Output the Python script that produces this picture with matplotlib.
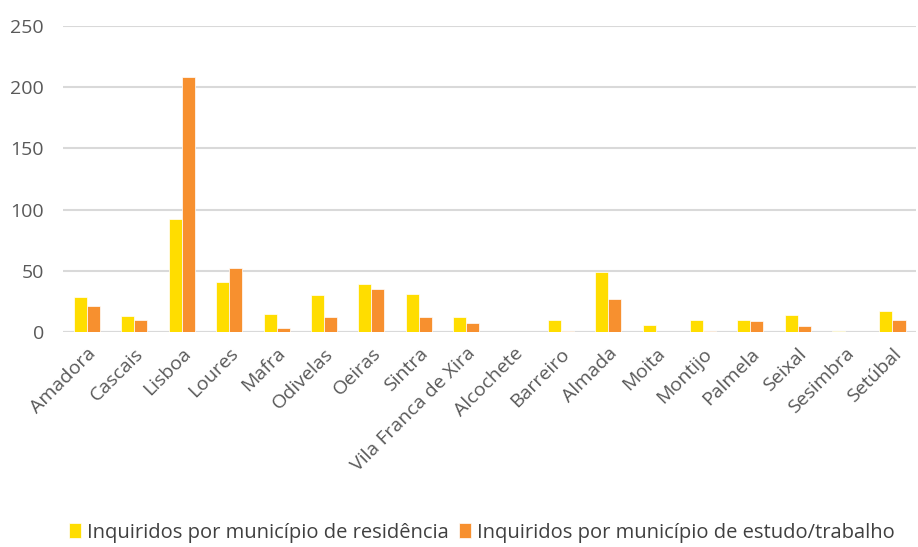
import numpy as np
import matplotlib
matplotlib.use('Agg')
import matplotlib.pyplot as plt

plt.rcParams['font.family'] = ['Open Sans', 'DejaVu Sans']

municipios = ['Amadora', 'Cascais', 'Lisboa', 'Loures', 'Mafra', 'Odivelas', 'Oeiras',
              'Sintra', 'Vila Franca de Xira', 'Alcochete', 'Barreiro', 'Almada', 'Moita',
              'Montijo', 'Palmela', 'Seixal', 'Sesimbra', 'Setúbal']
residencia = [29, 13, 92, 41, 15, 30, 39, 31, 12, 0, 10, 49, 6, 10, 10, 14, 1, 17]
estudo_trabalho = [21, 10, 208, 52, 3, 12, 35, 12, 7, 0, 1, 27, 0, 1, 9, 5, 0, 10]
yticks = [0, 50, 100, 150, 200, 250]

YELLOW = '#FFDD00'
ORANGE = '#F7902F'
GRID = '#D9D9D9'
TXT = '#595959'

fig = plt.figure(figsize=(9.18, 5.47), dpi=100)
ax = fig.add_axes([0.069, 0.393, 0.929, 0.5595])

x = np.arange(len(municipios))
w = 0.275
ax.bar(x - w/2, residencia, w, color=YELLOW, edgecolor='white', linewidth=0.5,
       label='Inquiridos por município de residência', zorder=3)
ax.bar(x + w/2, estudo_trabalho, w, color=ORANGE, edgecolor='white', linewidth=0.5,
       label='Inquiridos por município de estudo/trabalho', zorder=3)

ax.set_ylim(0, 250)
ax.set_xlim(-0.5, len(municipios) - 0.5)
ax.set_yticks(yticks)
ax.yaxis.grid(True, color=GRID, linewidth=1.5, zorder=0)
ax.set_axisbelow(True)
for s in ['top', 'right', 'left', 'bottom']:
    ax.spines[s].set_visible(False)
ax.axhline(0, color=GRID, linewidth=1.5, zorder=2)

ax.tick_params(axis='both', length=0, colors=TXT, labelsize=14)
ax.tick_params(axis='y', pad=14)
ax.set_xticks(x)
ax.set_xticklabels(municipios, rotation=45, ha='right', rotation_mode='anchor')
ax.tick_params(axis='x', pad=9)

fig.legend(loc='lower center', bbox_to_anchor=(0.525, -0.025), ncol=2, frameon=False,
           fontsize=14.5, handlelength=0.6, handleheight=0.8, handletextpad=0.3,
           columnspacing=0.5, labelcolor='#404040')

fig.savefig('out.png', dpi=100)
